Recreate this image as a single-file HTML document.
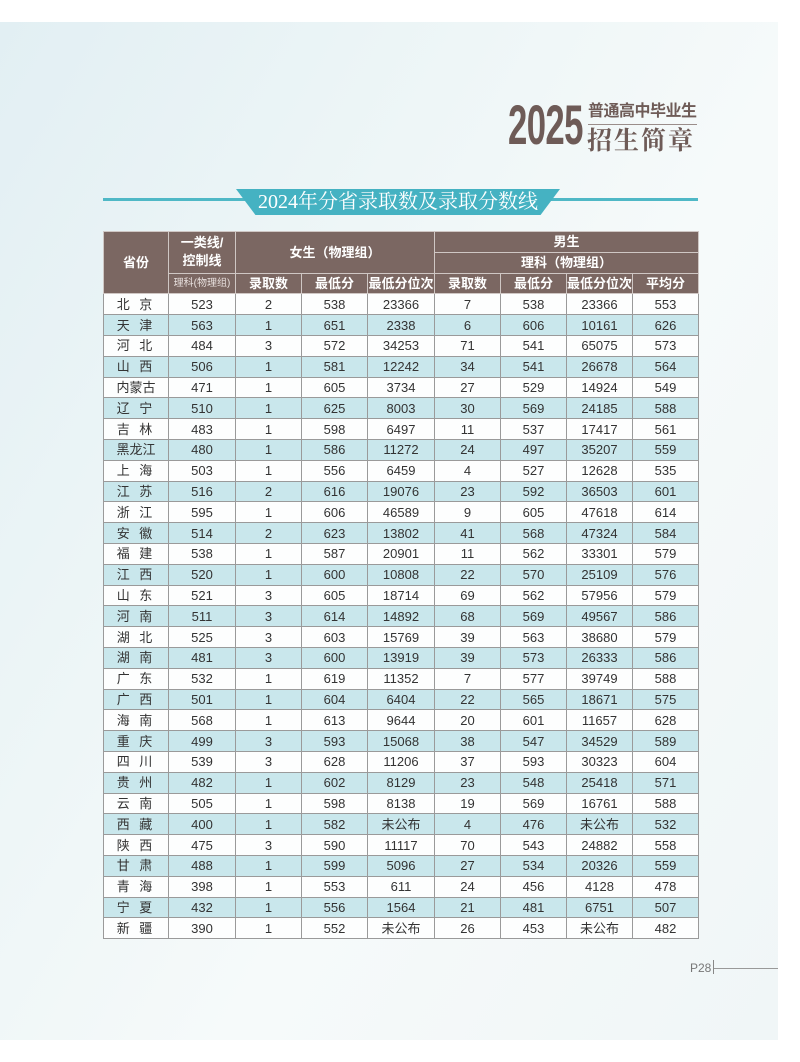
<!DOCTYPE html>
<html><head><meta charset="utf-8"><style>
body{margin:0;width:800px;height:1062px;background:#fff;position:relative;overflow:hidden;font-family:"Liberation Sans","Noto Sans CJK SC",sans-serif}
.page{position:absolute;left:0;top:22px;width:778px;height:1018px;background:linear-gradient(120deg,#e2eff3 0%,#eef6f7 35%,#f6fafa 60%,#f0f6f7 100%)}
.abs{position:absolute}
table{position:absolute;left:103px;top:231px;border-collapse:collapse;table-layout:fixed;width:595px}
td{border:1px solid #9a9a9a;text-align:center;font-size:13px;color:#333;height:19.8px;padding:0;line-height:19px}
.h td{background:#7b6762;color:#fff;font-weight:bold;border-color:#cfc7c4;font-size:13px}
tr.b td{background:#c9e7ec}
tr.w td{background:#fdfefe}
td.p{letter-spacing:3px}
</style></head><body>
<div class="page"></div>
<div class="abs" style="left:508px;top:95px;font-size:56px;font-weight:bold;color:#6e5b57;transform:scaleX(0.62);transform-origin:left top;line-height:60px;letter-spacing:-1px">2025</div>
<div class="abs" style="left:588px;top:102px;font-size:16px;font-weight:bold;color:#6e5b57;line-height:20px;letter-spacing:-0.5px">普通高中毕业生</div>
<div class="abs" style="left:588px;top:124px;width:109px;height:1px;background:#9a8d8a"></div>
<div class="abs" style="left:587px;top:125px;font-family:'Noto Serif CJK SC',serif;font-size:25px;font-weight:bold;color:#6e5b57;line-height:28px;letter-spacing:2px">招生简章</div>
<div class="abs" style="left:103px;top:198px;width:595px;height:3px;background:#4fb8c6"></div>
<div class="abs" style="left:236px;top:189px;width:324px;height:26px;background:#45b2c2;clip-path:polygon(0 0,100% 0,94% 100%,6% 100%)"></div>
<div class="abs" style="left:236px;top:189px;width:324px;line-height:26px;text-align:center;color:#fff;font-family:'Liberation Serif','Noto Serif CJK SC',serif;font-size:20px">2024年分省录取数及录取分数线</div>
<table>
<colgroup><col style="width:65px"><col style="width:67px"><col style="width:66px"><col style="width:66px"><col style="width:67px"><col style="width:66px"><col style="width:66px"><col style="width:66px"><col style="width:66px"></colgroup>
<tr class="h"><td rowspan="3">省份</td><td rowspan="2" style="line-height:18px">一类线/<br>控制线</td><td colspan="3" rowspan="2">女生（物理组）</td><td colspan="4">男生</td></tr>
<tr class="h"><td colspan="4">理科（物理组）</td></tr>
<tr class="h"><td style="font-weight:normal;font-size:10px;color:#e8e0de">理科(物理组)</td><td>录取数</td><td>最低分</td><td>最低分位次</td><td>录取数</td><td>最低分</td><td>最低分位次</td><td>平均分</td></tr>
</table>
<script>
const d=`北 京,523,2,538,23366,7,538,23366,553
天 津,563,1,651,2338,6,606,10161,626
河 北,484,3,572,34253,71,541,65075,573
山 西,506,1,581,12242,34,541,26678,564
内蒙古,471,1,605,3734,27,529,14924,549
辽 宁,510,1,625,8003,30,569,24185,588
吉 林,483,1,598,6497,11,537,17417,561
黑龙江,480,1,586,11272,24,497,35207,559
上 海,503,1,556,6459,4,527,12628,535
江 苏,516,2,616,19076,23,592,36503,601
浙 江,595,1,606,46589,9,605,47618,614
安 徽,514,2,623,13802,41,568,47324,584
福 建,538,1,587,20901,11,562,33301,579
江 西,520,1,600,10808,22,570,25109,576
山 东,521,3,605,18714,69,562,57956,579
河 南,511,3,614,14892,68,569,49567,586
湖 北,525,3,603,15769,39,563,38680,579
湖 南,481,3,600,13919,39,573,26333,586
广 东,532,1,619,11352,7,577,39749,588
广 西,501,1,604,6404,22,565,18671,575
海 南,568,1,613,9644,20,601,11657,628
重 庆,499,3,593,15068,38,547,34529,589
四 川,539,3,628,11206,37,593,30323,604
贵 州,482,1,602,8129,23,548,25418,571
云 南,505,1,598,8138,19,569,16761,588
西 藏,400,1,582,未公布,4,476,未公布,532
陕 西,475,3,590,11117,70,543,24882,558
甘 肃,488,1,599,5096,27,534,20326,559
青 海,398,1,553,611,24,456,4128,478
宁 夏,432,1,556,1564,21,481,6751,507
新 疆,390,1,552,未公布,26,453,未公布,482`.split('\n');
const t=document.querySelector('table');
d.forEach((l,i)=>{const tr=document.createElement('tr');tr.className=i%2?'b':'w';tr.innerHTML=l.split(',').map((c,j)=>'<td'+(j==0&&c.length==3&&c[1]==' '?' class="p"':'')+'>'+c+'</td>').join('');t.appendChild(tr);});
</script>
<div class="abs" style="left:690px;top:961px;font-size:12px;color:#777">P28</div>
<div class="abs" style="left:713px;top:960px;width:1px;height:14px;background:#888"></div>
<div class="abs" style="left:714px;top:968px;width:64px;height:1px;background:#999"></div>
</body></html>
